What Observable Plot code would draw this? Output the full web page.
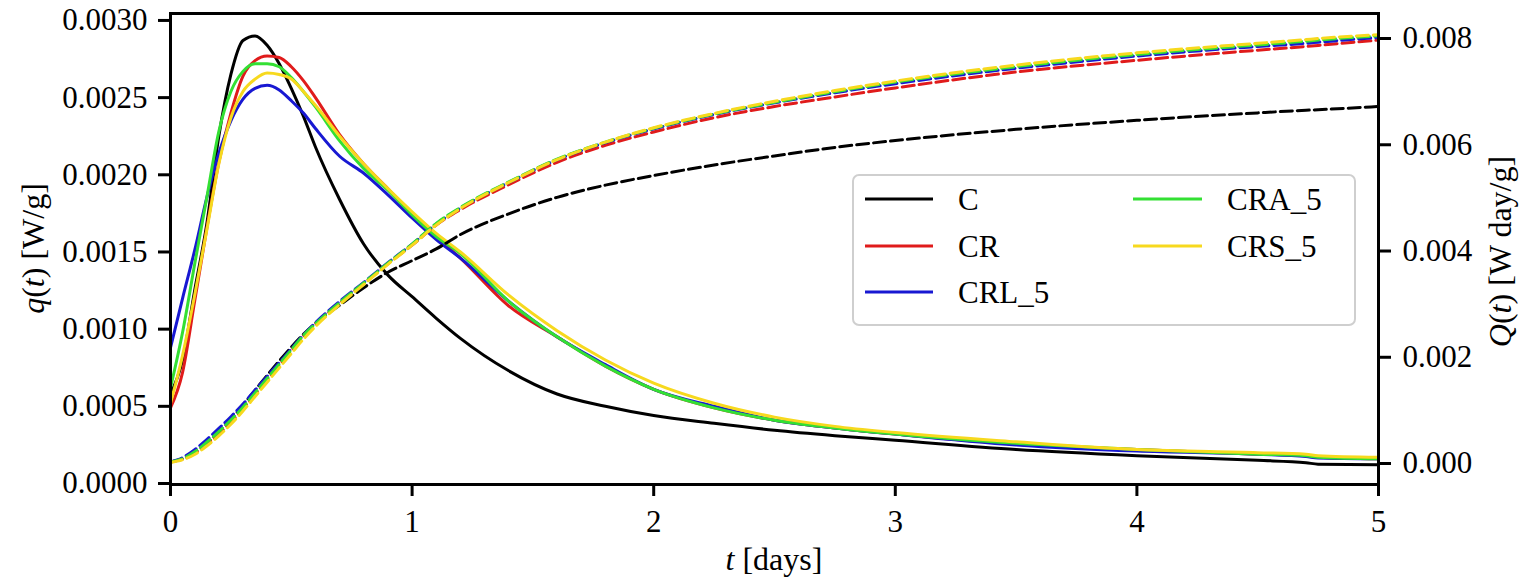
<!DOCTYPE html>
<html><head><meta charset="utf-8">
<script src="https://cdn.jsdelivr.net/npm/d3@7"></script>
<script src="https://cdn.jsdelivr.net/npm/@observablehq/plot@0.6"></script>
<style>html,body{margin:0;padding:0;background:#fff;} svg{display:block} svg text{font-family:"Liberation Serif","DejaVu Serif",serif !important;}</style>
</head><body><div id="chart"></div>
<script>
// ---- data ----
const tDays = [0,0.05,0.1,0.15,0.2,0.25,0.3,0.35,0.4,0.45,0.5,0.55,0.6,0.7,0.8,0.9,1.0,1.1,1.2,1.4,1.6,1.8,2.0,2.25,2.5,2.75,3.0,3.5,4.0,4.5,4.7,4.75,5.0];

// heat rate q(t) [W/g]
const q_C     = [0.00058,0.00080,0.00125,0.00168,0.00225,0.00265,0.00287,0.00290,0.00284,0.00272,0.00256,0.00238,0.00218,0.00184,0.00155,0.00135,0.00121,0.00107,0.00094,0.00073,0.00058,0.00050,0.00044,0.00039,0.000345,0.00031,0.00028,0.00022,0.00018,0.00015,0.000135,0.000125,0.000122];
const q_CR    = [0.00049,0.00072,0.00118,0.00165,0.00208,0.00240,0.00264,0.00274,0.00277,0.00276,0.00270,0.00261,0.00250,0.00226,0.00207,0.00191,0.00175,0.00160,0.00146,0.00115,0.00095,0.00076,0.00061,0.00049,0.00041,0.00036,0.00032,0.000255,0.00022,0.00019,0.00018,0.00017,0.00016];
const q_CRL_5 = [0.00088,0.00120,0.00151,0.00185,0.00214,0.00235,0.00249,0.00256,0.00258,0.00255,0.00248,0.00240,0.00230,0.00212,0.00201,0.00187,0.00172,0.00158,0.00146,0.00118,0.00095,0.00077,0.00061,0.00050,0.00041,0.00036,0.00032,0.00025,0.00021,0.00019,0.000175,0.000165,0.00016];
const q_CRA_5 = [0.00062,0.00098,0.00142,0.00185,0.00228,0.00254,0.00267,0.00272,0.00272,0.00270,0.00263,0.00254,0.00244,0.00222,0.00204,0.00190,0.00174,0.00160,0.00149,0.00118,0.00095,0.00076,0.00061,0.00049,0.00041,0.00036,0.00032,0.00026,0.00022,0.00019,0.00018,0.00017,0.00016];
const q_CRS_5 = [0.00052,0.00083,0.00122,0.00164,0.00207,0.00237,0.00254,0.00262,0.00266,0.00265,0.00262,0.00254,0.00245,0.00225,0.00207,0.00191,0.00176,0.00162,0.00150,0.00122,0.00099,0.00080,0.00065,0.00052,0.00043,0.00037,0.00033,0.00027,0.00022,0.00020,0.00019,0.00018,0.00017];

// cumulative heat Q(t) [W day/g]
const Q_C     = [0.00003,0.00009,0.00021,0.00039,0.00059,0.00083,0.00110,0.00138,0.00166,0.00193,0.00219,0.00243,0.00264,0.00298,0.00331,0.00360,0.00382,0.00404,0.00431,0.00470,0.00501,0.00524,0.00542,0.00562,0.00579,0.00595,0.00608,0.00629,0.00646,0.00660,0.00665,0.00666,0.00672];
const Q_CR    = [0.00003,0.00008,0.00019,0.00036,0.00056,0.00078,0.00103,0.00130,0.00158,0.00186,0.00213,0.00240,0.00262,0.00302,0.00339,0.00376,0.00411,0.00449,0.00478,0.00525,0.00567,0.00599,0.00624,0.00651,0.00672,0.00690,0.00707,0.00737,0.00759,0.00778,0.00785,0.00787,0.00797];
const Q_CRL_5 = [0.00003,0.00011,0.00026,0.00045,0.00066,0.00088,0.00112,0.00138,0.00164,0.00190,0.00216,0.00242,0.00265,0.00305,0.00341,0.00378,0.00413,0.00451,0.00481,0.00529,0.00572,0.00604,0.00630,0.00657,0.00679,0.00698,0.00715,0.00744,0.00767,0.00785,0.00791,0.00793,0.00802];
const Q_CRA_5 = [0.00003,0.00009,0.00022,0.00040,0.00060,0.00082,0.00106,0.00133,0.00160,0.00187,0.00214,0.00241,0.00263,0.00303,0.00340,0.00377,0.00413,0.00452,0.00482,0.00530,0.00573,0.00605,0.00631,0.00658,0.00680,0.00700,0.00718,0.00747,0.00770,0.00788,0.00795,0.00797,0.00805];
const Q_CRS_5 = [0.00002,0.00007,0.00017,0.00033,0.00052,0.00074,0.00099,0.00126,0.00153,0.00180,0.00207,0.00234,0.00258,0.00299,0.00337,0.00375,0.00411,0.00449,0.00480,0.00529,0.00572,0.00605,0.00632,0.00659,0.00682,0.00702,0.00720,0.00750,0.00773,0.00791,0.00798,0.00800,0.00807];

const seriesNames  = ["C","CR","CRL_5","CRA_5","CRS_5"];
const seriesColors = ["#000000","#e01b1b","#1818d2","#33e033","#f7d91e"];
const qSeries = [q_C,q_CR,q_CRL_5,q_CRA_5,q_CRS_5];
const QSeries = [Q_C,Q_CR,Q_CRL_5,Q_CRA_5,Q_CRS_5];

const xTicks = [0,1,2,3,4,5];
const qTicks = [0,0.0005,0.0010,0.0015,0.0020,0.0025,0.0030];
const QTicks = [0,0.002,0.004,0.006,0.008];

// ---- layout ----
const W = 1522, H = 581, mL = 170, mR = 144, mT = 13, mB = 97;
const qDomain = [-0.0000065, 0.003045];
const QDomain = [-0.000395, 0.008471];
const QtoLeft = d3.scaleLinear().domain(QDomain).range(qDomain);

const solidRows = [], dashRows = [];
seriesNames.forEach((s, k) => {
  tDays.forEach((t, i) => {
    solidRows.push({t, v: qSeries[k][i], s});
    dashRows.push({t, v: QtoLeft(QSeries[k][i]), s});
  });
});

const font = "Liberation Serif, DejaVu Serif, serif";
const fs = 31;

const svg = Plot.plot({
  width: W, height: H,
  marginLeft: mL, marginRight: mR, marginTop: mT, marginBottom: mB,
  style: {fontFamily: font, fontSize: fs + "px", background: "#fff", color: "#000"},
  x: {domain: [0, 5]},
  y: {domain: qDomain},
  color: {domain: seriesNames, range: seriesColors},
  marks: [
    Plot.line(solidRows, {x: "t", y: "v", z: "s", stroke: "s", strokeWidth: 3, curve: "monotone-x"}),
    Plot.line(dashRows, {x: "t", y: "v", z: "s", stroke: "s", strokeWidth: 3, strokeDasharray: "12,5", curve: "monotone-x"}),
    Plot.frame({stroke: "#000", strokeWidth: 3}),
    Plot.axisX({ticks: xTicks, tickFormat: d => String(d), tickSize: 12, tickPadding: 13, strokeWidth: 3, fontSize: fs, label: null}),
    Plot.axisY({anchor: "left", ticks: qTicks, tickFormat: d => d.toFixed(4), tickSize: 12, tickPadding: 11, strokeWidth: 3, fontSize: fs, label: null}),
    Plot.axisY(QTicks.map(QtoLeft), {anchor: "right", tickFormat: d => { const v = QtoLeft.invert(d); return (Math.abs(v) < 1e-9 ? 0 : v).toFixed(3); }, tickSize: 12, tickPadding: 12, strokeWidth: 3, fontSize: fs, label: null})
  ]
});

const g = d3.select(svg);
const plotL = mL, plotR = W - mR, plotT = mT, plotB = H - mB;
const cy = (plotT + plotB) / 2;

// axis labels
const lab = g.append("g").attr("font-family", font).attr("font-size", 32).attr("fill", "#000");
const xl = lab.append("text").attr("x", (plotL + plotR) / 2).attr("y", 570).attr("text-anchor", "middle");
xl.append("tspan").attr("font-style", "italic").text("t");
xl.append("tspan").text(" [days]");

const yl = lab.append("text").attr("transform", `translate(33,${cy}) rotate(-90)`).attr("text-anchor", "middle").attr("dominant-baseline", "central");
yl.append("tspan").attr("font-style", "italic").text("q");
yl.append("tspan").text("(");
yl.append("tspan").attr("font-style", "italic").text("t");
yl.append("tspan").text(") [W/g]");

const yr = lab.append("text").attr("transform", `translate(1500,${cy + 3}) rotate(-90)`).attr("text-anchor", "middle").attr("dominant-baseline", "central");
yr.append("tspan").attr("font-style", "italic").text("Q");
yr.append("tspan").text("(");
yr.append("tspan").attr("font-style", "italic").text("t");
yr.append("tspan").text(") [W day/g]");

// legend
const leg = g.append("g").attr("font-family", font).attr("font-size", fs).attr("text-anchor", "start");
leg.append("rect").attr("x", 853).attr("y", 175).attr("width", 502).attr("height", 150)
  .attr("rx", 6).attr("fill", "#fff").attr("fill-opacity", 0.85).attr("stroke", "#cfcfcf").attr("stroke-width", 2);
const rowsY = [199, 246, 292];
const cols = [{x0: 865, x1: 933, tx: 958}, {x0: 1133, x1: 1202, tx: 1227}];
seriesNames.forEach((s, k) => {
  const c = cols[k < 3 ? 0 : 1];
  const yy = rowsY[k < 3 ? k : k - 3];
  leg.append("line").attr("x1", c.x0).attr("x2", c.x1).attr("y1", yy).attr("y2", yy)
    .attr("stroke", seriesColors[k]).attr("stroke-width", 3);
  leg.append("text").attr("x", c.tx).attr("y", yy).attr("dy", "0.35em").attr("text-anchor", "start").attr("fill", "#000").text(s);
});

document.getElementById("chart").appendChild(svg);
</script>
</body></html>
